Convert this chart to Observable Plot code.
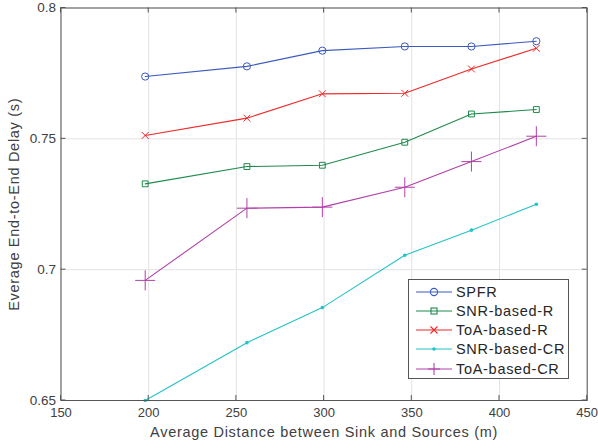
<!DOCTYPE html>
<html><head><meta charset="utf-8">
<script src="https://cdn.jsdelivr.net/npm/d3@7"></script>
<script src="https://cdn.jsdelivr.net/npm/@observablehq/plot@0.6"></script>
<style>
body{margin:0;background:#fff;font-family:"Liberation Sans",Arial,sans-serif;}
#wrap{position:relative;width:598px;height:448px;}
#legend{position:absolute;left:408px;top:279px;width:161px;height:100px;border:1px solid #555;background:#fff;box-sizing:border-box;}
.row{position:absolute;left:0;height:19px;display:flex;align-items:center;font-size:14.5px;letter-spacing:0.7px;color:#262626;}
.row svg{margin-left:7px;margin-right:4px;}
</style></head>
<body><div id="wrap"></div>
<script>
const xs = [198, 256, 299, 346, 384, 421];
const seriesNames = ["SPFR","SNR-based-R","ToA-based-R","SNR-based-CR","ToA-based-CR"];
const spfr      = [0.7738, 0.7777, 0.7837, 0.7853, 0.7853, 0.7873];
const snrR      = [0.7328, 0.7394, 0.7399, 0.7487, 0.7595, 0.7612];
const toaR      = [0.7513, 0.7579, 0.7672, 0.7674, 0.7767, 0.7846];
const snrCR     = [0.6500, 0.6721, 0.6855, 0.7055, 0.7151, 0.7250];
const toaCR     = [0.6959, 0.7235, 0.7239, 0.7315, 0.7413, 0.7510];
const xTicks = [150, 200, 250, 300, 350, 400, 450];
const yTicks = [0.65, 0.7, 0.75, 0.8];
const xLabel = "Average Distance between Sink and Sources (m)";
const yLabel = "Everage End-to-End Delay (s)";

const colors = ["#3b5bbd","#1f8a4c","#f02828","#25c2c8","#b040a8"];
const symbols = ["circle","square","times","dot","plus"];
const radii = [3.6, 3.3, 3.2, 1.8, 6.5];
const allVals = [spfr, snrR, toaR, snrCR, toaCR];

const data = [];
seriesNames.forEach((s, i) => allVals[i].forEach((v, j) => data.push({series: s, x: xs[j], y: v})));

const lineMarks = seriesNames.map((s, i) => Plot.line(data.filter(d => d.series === s), {x: "x", y: "y", stroke: colors[i], strokeWidth: 1.1}));
const dotMarks = seriesNames.map((s, i) => {
  const d = data.filter(e => e.series === s);
  if (symbols[i] === "dot") return Plot.dot(d, {x: "x", y: "y", r: radii[i], fill: colors[i], stroke: "none"});
  return Plot.dot(d, {x: "x", y: "y", r: radii[i], symbol: symbols[i], fill: "none", stroke: colors[i], strokeWidth: 1});
});

const chart = Plot.plot({
  width: 598, height: 448,
  marginTop: 7.5, marginRight: 11.3, marginBottom: 48, marginLeft: 60.5,
  style: {fontFamily: "Liberation Sans, Arial, sans-serif", fontSize: "13px", color: "#404040", background: "#fff"},
  x: {domain: [150, 450]},
  y: {domain: [0.65, 0.8]},
  marks: [
    Plot.gridX(xTicks, {stroke: "#e3e3e3", strokeOpacity: 1}),
    Plot.gridY(yTicks, {stroke: "#e3e3e3", strokeOpacity: 1}),
    Plot.axisX(xTicks, {anchor: "bottom", tickSize: 0, tickPadding: 7, fontSize: 13, fill: "#404040", label: null}),
    Plot.axisY(yTicks, {anchor: "left", tickSize: 0, tickPadding: 5, fontSize: 13.5, fill: "#404040", tickFormat: d => String(d), label: null}),
    Plot.text([xLabel], {text: d => d, frameAnchor: "bottom", dy: 36, fontSize: 14.5, fill: "#404040"}),
    Plot.text([yLabel], {text: d => d, frameAnchor: "left", dx: -47, rotate: -90, textAnchor: "middle", fontSize: 14.5, fill: "#404040"}),
    ...lineMarks,
    ...dotMarks,
    Plot.frame({stroke: "#555", strokeWidth: 1})
  ]
});
document.getElementById("wrap").appendChild(chart);

const svg = d3.select(chart);
// letter spacing to mimic the wider original font (axis titles only)
svg.selectAll("text").each(function() {
  const t = this.textContent;
  if (t === xLabel || t === yLabel) this.setAttribute("letter-spacing", "0.7");
});

// inward tick marks on all four sides, using plot scales
const sx = chart.scale("x"), sy = chart.scale("y");
const g = svg.append("g").attr("stroke", "#555").attr("stroke-width", 1);
const [y0, y1] = [sy.apply(0.65), sy.apply(0.8)];
const [x0, x1] = [sx.apply(150), sx.apply(450)];
xTicks.forEach(t => {
  const px = sx.apply(t);
  g.append("line").attr("x1", px).attr("x2", px).attr("y1", y0).attr("y2", y0 - 5);
  g.append("line").attr("x1", px).attr("x2", px).attr("y1", y1).attr("y2", y1 + 5);
});
yTicks.forEach(t => {
  const py = sy.apply(t);
  g.append("line").attr("x1", x0).attr("x2", x0 + 5).attr("y1", py).attr("y2", py);
  g.append("line").attr("x1", x1).attr("x2", x1 - 5).attr("y1", py).attr("y2", py);
});

// legend
const leg = document.createElement("div");
leg.id = "legend";
const symSvg = (i) => {
  const c = colors[i];
  let m = "";
  if (symbols[i] === "circle") m = `<circle cx="18" cy="9" r="3.6" fill="none" stroke="${c}" stroke-width="1.1"/>`;
  if (symbols[i] === "square") m = `<rect x="15" y="6" width="6" height="6" fill="none" stroke="${c}" stroke-width="1.1"/>`;
  if (symbols[i] === "times") m = `<path d="M14.5,5.5L21.5,12.5M21.5,5.5L14.5,12.5" stroke="${c}" stroke-width="1.1"/>`;
  if (symbols[i] === "dot") m = `<circle cx="18" cy="9" r="1.8" fill="${c}"/>`;
  if (symbols[i] === "plus") m = `<path d="M12,9L24,9M18,3L18,15" stroke="${c}" stroke-width="1.1"/>`;
  return `<svg width="36" height="18"><line x1="0" x2="36" y1="9" y2="9" stroke="${c}" stroke-width="1.1"/>${m}</svg>`;
};
seriesNames.forEach((s, i) => {
  const r = document.createElement("div");
  r.className = "row";
  r.style.top = (2 + i * 19.3) + "px";
  r.innerHTML = symSvg(i) + `<span>${s}</span>`;
  leg.appendChild(r);
});
document.getElementById("wrap").appendChild(leg);
</script></body></html>
